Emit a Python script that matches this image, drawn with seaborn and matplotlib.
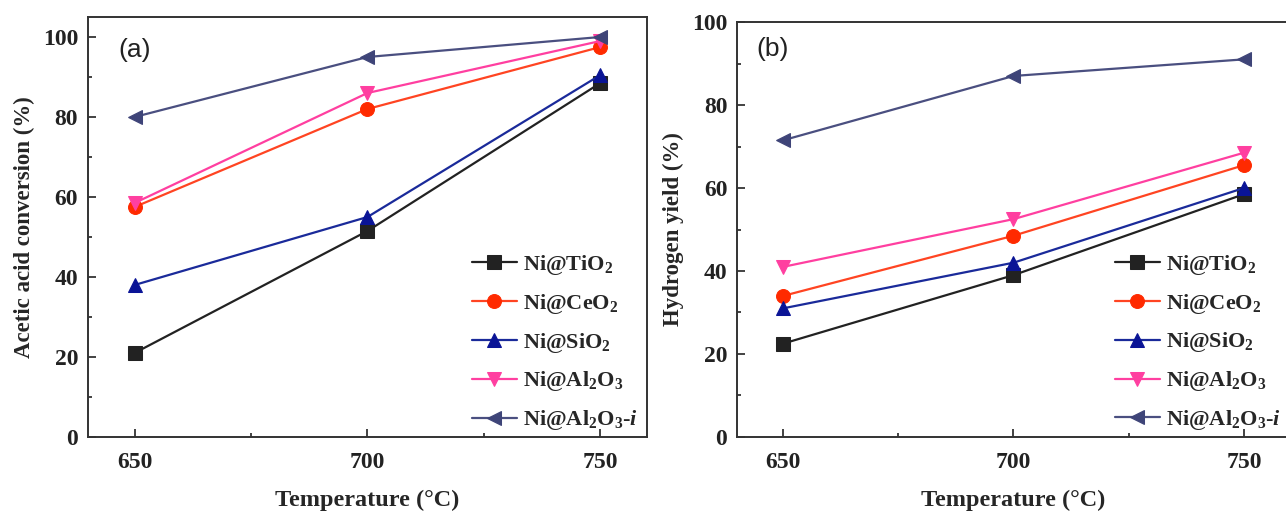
import pandas as pd
import matplotlib.pyplot as plt
import seaborn as sns

# Data
temperature = [650, 700, 750]
catalysts = ['Ni@TiO$_2$', 'Ni@CeO$_2$', 'Ni@SiO$_2$', 'Ni@Al$_2$O$_3$',
             'Ni@Al$_2$O$_3$-$\\mathit{i}$']

conversion_tio2 = [21.0, 51.5, 88.5]
conversion_ceo2 = [57.5, 82.0, 97.5]
conversion_sio2 = [38.0, 55.0, 90.5]
conversion_al2o3 = [58.5, 86.0, 99.0]
conversion_al2o3_i = [80.0, 95.0, 100.0]

h2_tio2 = [22.5, 39.0, 58.5]
h2_ceo2 = [34.0, 48.5, 65.5]
h2_sio2 = [31.0, 42.0, 60.0]
h2_al2o3 = [41.0, 52.5, 68.5]
h2_al2o3_i = [71.5, 87.0, 91.0]

line_colors = ['#222222', '#ff4422', '#1a2a9a', '#ff3fa0', '#4a4f80']
marker_colors = ['#222222', '#ff2a00', '#0a1496', '#ff3fa0', '#3e4478']
markers = ['s', 'o', '^', 'v', '<']

sns.set_style('ticks')
plt.rcParams['font.family'] = ['Liberation Serif', 'DejaVu Serif']
plt.rcParams['font.weight'] = 'bold'
plt.rcParams['mathtext.fontset'] = 'custom'
plt.rcParams['mathtext.default'] = 'bf'
plt.rcParams['mathtext.bf'] = 'Liberation Serif:bold'
plt.rcParams['mathtext.rm'] = 'Liberation Serif:bold'
plt.rcParams['mathtext.it'] = 'Liberation Serif:italic:bold'


def make_frame(series):
    rows = []
    for name, vals in zip(catalysts, series):
        for t, v in zip(temperature, vals):
            rows.append({'Temperature': t, 'Value': v, 'Catalyst': name})
    return pd.DataFrame(rows)


df_a = make_frame([conversion_tio2, conversion_ceo2, conversion_sio2,
                   conversion_al2o3, conversion_al2o3_i])
df_b = make_frame([h2_tio2, h2_ceo2, h2_sio2, h2_al2o3, h2_al2o3_i])

fig = plt.figure(figsize=(12.86, 5.12), dpi=100)
ax_a = fig.add_axes([0.0684, 0.1465, 0.4347, 0.8203])
ax_b = fig.add_axes([0.5731, 0.1465, 0.4300, 0.8105])


def draw(ax, df, ylabel, ylim, panel, px, py):
    for i, name in enumerate(catalysts):
        sub = df[df['Catalyst'] == name]
        sns.lineplot(data=sub, x='Temperature', y='Value', ax=ax,
                     color=line_colors[i], marker=markers[i], markersize=10,
                     markerfacecolor=marker_colors[i],
                     markeredgecolor=marker_colors[i], linewidth=1.6,
                     label=name)
    ax.set_xlim(640, 760)
    ax.set_ylim(*ylim)
    ax.set_xticks(temperature)
    ax.set_xticks([675, 725], minor=True)
    ax.set_yticks([0, 20, 40, 60, 80, 100])
    ax.set_yticks([10, 30, 50, 70, 90], minor=True)
    ax.tick_params(which='both', direction='in', labelsize=17, width=1.2,
                   colors='#222222', pad=7)
    ax.tick_params(axis='x', which='major', pad=11)
    ax.tick_params(which='major', length=6)
    ax.tick_params(which='minor', length=3)
    for lab in ax.get_xticklabels() + ax.get_yticklabels():
        lab.set_fontweight('bold')
    for sp in ax.spines.values():
        sp.set_linewidth(1.4)
        sp.set_color('#333333')
    ax.set_xlabel('Temperature (°C)', fontsize=17.5, fontweight='bold',
                  labelpad=12)
    ax.set_ylabel(ylabel, fontsize=16.5, fontweight='bold', labelpad=6)
    ax.text(px, py, panel, transform=ax.transAxes, fontsize=19,
            family='Liberation Sans', fontweight='normal', va='top',
            color='#222222')
    ax.legend(loc='lower right', frameon=False, fontsize=16,
              handlelength=2.0, handletextpad=0.3, labelspacing=0.67,
              borderaxespad=0.0, bbox_to_anchor=(1.0, -0.01))


draw(ax_a, df_a, 'Acetic acid conversion (%)', (0, 105), '(a)', 0.055, 0.95)
draw(ax_b, df_b, 'Hydrogen yield (%)', (0, 100), '(b)', 0.035, 0.965)
ax_b.spines['right'].set_visible(False)

fig.savefig('out.png', dpi=100)
